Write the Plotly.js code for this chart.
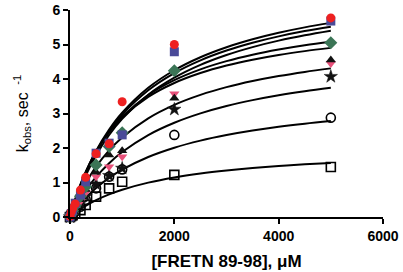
<!DOCTYPE html>
<html>
<head>
<meta charset="utf-8">
<script src="https://cdn.plot.ly/plotly-3.0.1.min.js"></script>
<style>html,body{margin:0;padding:0;background:#fff;}#chart{width:403px;height:272px;}</style>
</head>
<body>
<div id="chart"></div>
<script>
// Concentrations of FRETN 89-98 (µM) for data points
const conc = [0, 25, 50, 100, 200, 300, 500, 750, 1000, 2000, 5000];

// Observed rates (sec^-1) per series
const redCircle   = [0.02, 0.15, 0.25, 0.38, 0.78, 1.15, 1.83, 2.12, 3.34, 5.00, 5.77];
const navySquare  = [0.00, 0.10, 0.20, 0.40, 0.64, 1.02, 1.85, 2.14, 2.38, 4.79, 5.68];
const greenDiam   = [0.00, 0.08, 0.18, 0.33, 0.60, 0.88, 1.51, 2.04, 2.44, 4.24, 5.05];
const blackTri    = [0.00, 0.07, 0.15, 0.28, 0.50, 0.80, 1.30, 1.80, 1.92, 3.44, 4.55];
const pinkTri     = [0.00, 0.06, 0.12, 0.25, 0.45, 0.70, 1.17, 1.46, 1.75, 3.57, 4.45];
const blackStar   = [0.00, 0.05, 0.10, 0.20, 0.40, 0.60, 0.95, 1.20, 1.41, 3.12, 4.07];
const openCircle  = [0.00, 0.04, 0.08, 0.16, 0.30, 0.50, 0.83, 1.17, 1.38, 2.38, 2.88];
const openSquare  = [0.00, 0.03, 0.05, 0.10, 0.20, 0.35, 0.59, 0.83, 1.02, 1.22, 1.45];

// Fitted curves
const curveX = [0, 125, 250, 500, 750, 1000, 1500, 2000, 2500, 3000, 3500, 4000, 4500, 5000];
const curve1 = [0, 0.599, 1.106, 1.916, 2.535, 3.024, 3.746, 4.254, 4.631, 4.921, 5.152, 5.340, 5.496, 5.627];
const curve2 = [0, 0.587, 1.084, 1.879, 2.486, 2.965, 3.673, 4.171, 4.541, 4.825, 5.051, 5.236, 5.389, 5.517];
const curve3 = [0, 0.554, 1.026, 1.788, 2.377, 2.845, 3.544, 4.039, 4.410, 4.696, 4.925, 5.112, 5.267, 5.399];
const curve4 = [0, 0.612, 1.115, 1.893, 2.466, 2.906, 3.536, 3.967, 4.280, 4.517, 4.703, 4.853, 4.977, 5.080];
const curve5 = [0, 0.627, 1.134, 1.905, 2.463, 2.885, 3.482, 3.884, 4.172, 4.390, 4.560, 4.697, 4.808, 4.902];
const curve6 = [0, 0.456, 0.841, 1.460, 1.933, 2.307, 2.861, 3.251, 3.540, 3.764, 3.941, 4.086, 4.206, 4.308];
const curve7 = [0, 0.352, 0.657, 1.161, 1.560, 1.883, 2.376, 2.733, 3.004, 3.217, 3.388, 3.529, 3.647, 3.748];
const curve8 = [0, 0.253, 0.474, 0.841, 1.134, 1.373, 1.740, 2.009, 2.214, 2.375, 2.506, 2.614, 2.704, 2.781];
const curve9 = [0, 0.148, 0.276, 0.488, 0.655, 0.791, 0.996, 1.146, 1.259, 1.347, 1.419, 1.478, 1.527, 1.568];

const xTicks = [0, 2000, 4000, 6000];
const yTicks = [0, 1, 2, 3, 4, 5, 6];

const curves = [curve1, curve2, curve3, curve4, curve5, curve6, curve7, curve8, curve9];
const traces = curves.map(c => ({
  x: curveX, y: c, type: 'scatter', mode: 'lines',
  line: {color: '#000', width: 2, shape: 'spline', smoothing: 1.0},
  hoverinfo: 'skip', showlegend: false
}));

function pts(y, symbol, color, lineColor, size, lw) {
  return {
    x: conc, y: y, type: 'scatter', mode: 'markers', cliponaxis: false, showlegend: false,
    marker: {symbol: symbol, color: color, size: size, line: {color: lineColor, width: lw}}
  };
}
traces.push(pts(openSquare, 'square-open', '#000', '#000', 9, 1.6));
traces.push(pts(openCircle, 'circle-open', '#000', '#000', 9, 1.6));
traces.push(pts(blackStar, 'star', '#111', '#111', 10, 0.5));
traces.push(pts(pinkTri, 'triangle-down', '#e8507a', '#e8507a', 9, 0));
traces.push(pts(blackTri, 'triangle-up', '#111', '#111', 9, 0));
traces.push(pts(greenDiam, 'diamond', '#3b7556', '#3b7556', 10, 0));
traces.push(pts(navySquare, 'square', '#4a4a98', '#4a4a98', 9, 0));
traces.push(pts(redCircle, 'circle', '#ee2020', '#ee2020', 9, 0));

const tickFont = {family: 'Liberation Sans, Arial, sans-serif', size: 14, color: '#000', weight: 'bold'};
const layout = {
  width: 403, height: 272,
  margin: {l: 70, r: 20, t: 10, b: 55},
  paper_bgcolor: '#fff', plot_bgcolor: '#fff',
  showlegend: false,
  xaxis: {
    range: [0, 6000], tickvals: xTicks, ticktext: xTicks.map(String),
    showgrid: false, zeroline: false, showline: true, linecolor: '#000', linewidth: 2,
    ticks: 'outside', ticklen: 5, tickwidth: 2, tickcolor: '#000',
    tickfont: tickFont,
    title: {text: '[FRETN 89-98], μM', font: {family: 'Liberation Sans, Arial, sans-serif', size: 17, color: '#000', weight: 'bold'}, standoff: 12}
  },
  yaxis: {
    range: [0, 6], tickvals: yTicks, ticktext: yTicks.map(String),
    showgrid: false, zeroline: false, showline: true, linecolor: '#000', linewidth: 2,
    ticks: 'outside', ticklen: 5, tickwidth: 2, tickcolor: '#000',
    tickfont: tickFont,
    title: {text: 'k<sub>obs</sub>, sec <sup> -1</sup>', font: {family: 'Liberation Sans, Arial, sans-serif', size: 16, color: '#000'}, standoff: 20}
  }
};
Plotly.newPlot('chart', traces, layout, {displayModeBar: false, staticPlot: true});
</script>
</body>
</html>
